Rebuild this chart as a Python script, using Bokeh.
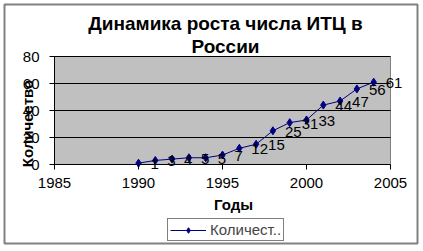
from bokeh.plotting import figure
from bokeh.models import (ColumnDataSource, Legend, LegendItem, FixedTicker, Range1d, Label)
from bokeh.core.properties import value
from bokeh.embed import file_html
from bokeh.resources import INLINE

years = [1990, 1991, 1992, 1993, 1994, 1995, 1996, 1997, 1998, 1999, 2000, 2001, 2002, 2003, 2004]
counts = [1, 3, 4, 5, 5, 7, 12, 15, 25, 31, 33, 44, 47, 56, 61]
x_ticks = [1985, 1990, 1995, 2000, 2005]
y_ticks = [0, 20, 40, 60, 80]
title_lines = ["Динамика роста числа ИТЦ в", "России"]
x_title = "Годы"
y_title = "Количество"
series_name = "Количест.."

FONT = "Liberation Sans"
NAVY = "#000080"
W, H = 423, 251
X0, X1 = x_ticks[0], x_ticks[-1]
Y0, Y1 = y_ticks[0], y_ticks[-1]
# pixel placement of the plot area inside the canvas
PL, PR, PT, PB = 54, 390, 56, 164
kx = (PR - PL) / (X1 - X0)
ky = (PB - PT) / (Y1 - Y0)


def px2x(px):
    return X0 + (px - PL) / kx


def px2y(py):
    return Y0 + (PB - py) / ky


src = ColumnDataSource(dict(x=years, y=counts, t=[str(c) for c in counts]))

p = figure(width=W, height=H, output_backend="svg", toolbar_location=None,
           x_range=Range1d(px2x(0), px2x(W)), y_range=Range1d(px2y(H), px2y(0)),
           min_border=0)
p.background_fill_color = "white"
p.border_fill_color = "white"
p.outline_line_color = None
p.xgrid.visible = False
p.ygrid.visible = False

# chart border
p.quad(left=[px2x(4)], right=[px2x(417)], bottom=[px2y(243)], top=[px2y(4)],
       fill_color=None, line_color="#808080", line_width=2)

# plot area
p.quad(left=[X0], right=[X1], bottom=[Y0], top=[Y1], fill_color="#C0C0C0",
       line_color="#808080", line_width=1)
# gridlines and axis lines
p.segment(x0=[X0] * (len(y_ticks) - 1), x1=[X1] * (len(y_ticks) - 1), y0=y_ticks[1:], y1=y_ticks[1:],
          line_color="black", line_width=1)
p.segment(x0=[X0, X0], x1=[X1, X0], y0=[Y0, Y0], y1=[Y0, Y1], line_color="black", line_width=1)

p.xaxis.fixed_location = Y0
p.yaxis.fixed_location = X0
for ax in (p.xaxis[0], p.yaxis[0]):
    ax.axis_line_color = None
    ax.major_tick_line_color = "black"
    ax.major_tick_in = 0
    ax.major_tick_out = 5
    ax.minor_tick_line_color = None
    ax.major_label_text_font = FONT
    ax.major_label_text_font_size = "15px"
    ax.major_label_text_color = "black"
p.xaxis.ticker = FixedTicker(ticks=x_ticks)
p.yaxis.ticker = FixedTicker(ticks=y_ticks)
p.xaxis.major_label_standoff = 8
p.yaxis.major_label_standoff = 10

line = p.line("x", "y", source=src, line_color=NAVY, line_width=1)
pts = p.scatter("x", "y", source=src, marker="diamond", size=8, fill_color=NAVY, line_color=NAVY)
p.text("x", "y", text="t", source=src, x_offset=12, y_offset=1, text_align="left",
       text_baseline="middle", text_font=value(FONT), text_font_size="15px", text_color="black")


def add_label(text, px, py, size, bold=True, angle=0.0):
    p.add_layout(Label(x=px2x(px), y=px2y(py), text=text, angle=angle,
                       text_align="center", text_baseline="middle", text_font=FONT,
                       text_font_size=size, text_font_style="bold" if bold else "normal",
                       text_color="black"))


add_label(title_lines[0], 225, 23, "19px")
add_label(title_lines[1], 225, 46, "19px")
add_label(x_title, 233, 204, "15px")
add_label(y_title, 27, 123, "15px", angle=1.5708)

legend = Legend(items=[LegendItem(label=series_name, renderers=[line, pts])],
                location=(167, H - 241), orientation="vertical",
                glyph_width=36, glyph_height=14, label_height=14, label_width=20,
                padding=2, margin=0, spacing=0,
                label_standoff=4, label_text_font=FONT, label_text_font_size="15px",
                label_text_baseline="middle",
                border_line_color="black", border_line_width=1,
                background_fill_color="white", background_fill_alpha=1)
p.add_layout(legend, "center")

open("out.html", "w").write(file_html(p, INLINE))
